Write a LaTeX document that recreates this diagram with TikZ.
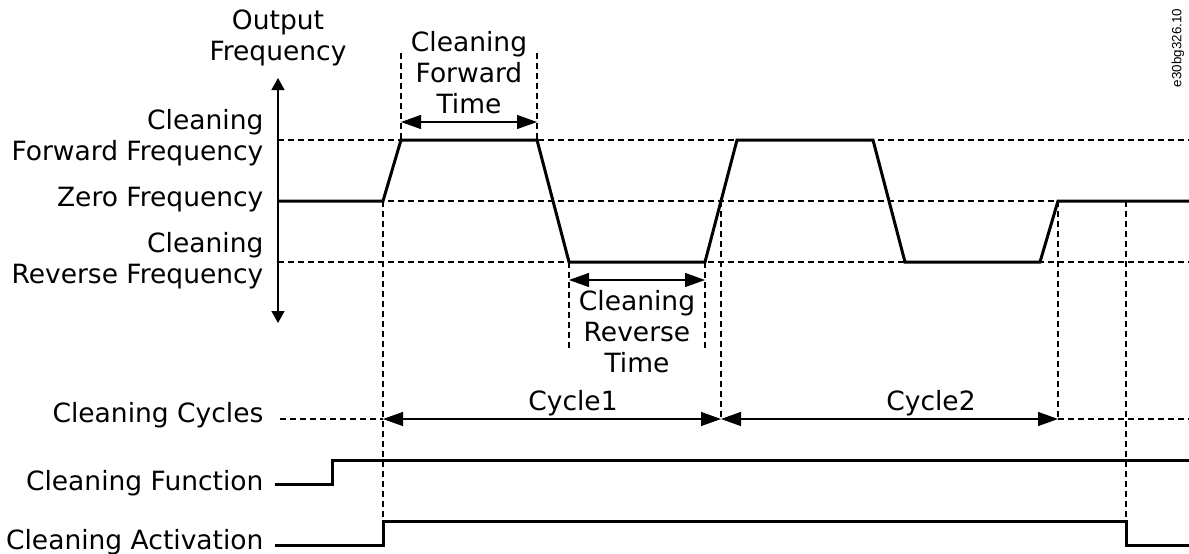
\documentclass[tikz,border=0pt]{standalone}
\usepackage{fontspec}
\setmainfont{DejaVu Sans}
\newfontfamily\tagfont{Liberation Sans}
\usetikzlibrary{arrows.meta}

\begin{document}
\begin{tikzpicture}[x=1pt, y=-1pt, line width=1.2pt,
  txt/.style={font=\fontsize{26.5}{31}\selectfont, inner sep=0pt},
  lbl/.style={txt, align=right, anchor=base east},
  mid/.style={txt, align=center, anchor=base},
  guide/.style={dash pattern=on 6pt off 4pt, line width=1.2pt},
  signal/.style={line width=3pt, line join=miter},
  dimarrow/.style={{Triangle[length=20pt,width=14pt]}-{Triangle[length=20pt,width=14pt]}, line width=1.2pt},
  axisarrow/.style={{Triangle[length=12pt,width=13pt]}-{Triangle[length=12pt,width=13pt]}, line width=1.4pt}]
  \useasboundingbox (0,0) rectangle (1189,554);

  % achse und beschriftung
  \coordinate (axtop) at (278,78);
  \coordinate (axbot) at (278,323);
  \draw[axisarrow] (axtop) -- (axbot);
  \node[mid] (outfreq) at (278,60) {Output\\Frequency};
  \node[lbl] (fwdfreq) at (264,160) {Cleaning\\Forward Frequency};
  \node[lbl] (zerofreq) at (264,206) {Zero Frequency};
  \node[lbl] (revfreq) at (264,283) {Cleaning\\Reverse Frequency};
  \node[lbl] (cycles) at (264,422) {Cleaning Cycles};
  \node[lbl] (function) at (264,490) {Cleaning Function};
  \node[lbl] (activation) at (264,549) {Cleaning Activation};

  % hilfslinien (gestrichelt)
  \draw[guide] (278,140) -- (1189,140);
  \draw[guide] (278,201) -- (1189,201);
  \draw[guide] (278,262) -- (1189,262);
  \draw[guide] (383,201) -- (383,521);
  \draw[guide] (401,53) -- (401,140);
  \draw[guide] (537,53) -- (537,140);
  \draw[guide] (569,262) -- (569,350);
  \draw[guide] (705,262) -- (705,350);
  \draw[guide] (721,201) -- (721,419);
  \draw[guide] (1058,201) -- (1058,419);
  \draw[guide] (1126,201) -- (1126,521);
  \draw[guide] (280,419) -- (383,419);
  \draw[guide] (1058,419) -- (1189,419);

  % ausgangsfrequenz
  \draw[signal] (278,201) -- (383,201) -- (401,140) -- (537,140) -- (569,262) -- (705,262)
    -- (737,140) -- (873,140) -- (905,262) -- (1040,262) -- (1058,201) -- (1189,201);

  % zeiten
  \coordinate (fwdA) at (401,122);
  \coordinate (fwdB) at (537,122);
  \draw[dimarrow] (fwdA) -- (fwdB);
  \node[mid] (fwdtime) at (469,113) {Cleaning\\Forward\\Time};
  \coordinate (revA) at (569,280);
  \coordinate (revB) at (705,280);
  \draw[dimarrow] (revA) -- (revB);
  \node[mid] (revtime) at (637,372) {Cleaning\\Reverse\\Time};

  % zyklen
  \coordinate (cyc0) at (383,419);
  \coordinate (cyc1) at (721,419);
  \coordinate (cyc2) at (1058,419);
  \draw[dimarrow] (cyc0) -- (cyc1);
  \draw[dimarrow] (cyc1) -- (cyc2);
  \node[mid] (cyclabel1) at (573,410) {Cycle1};
  \node[mid] (cyclabel2) at (931,410) {Cycle2};

  % funktion und aktivierung
  \draw[signal] (275,484) -- (332,484) -- (332,460) -- (1189,460);
  \draw[signal] (275,545) -- (383,545) -- (383,521) -- (1126,521) -- (1126,545) -- (1189,545);

  \node[font=\tagfont\fontsize{13.4}{15}\selectfont, rotate=90, inner sep=0pt] (tag) at (1178,48) {e30bg326.10};
\end{tikzpicture}
\end{document}
